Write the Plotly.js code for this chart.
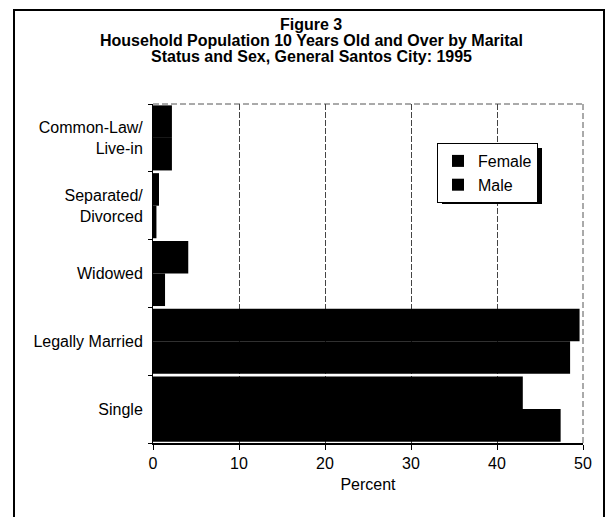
<!DOCTYPE html>
<html>
<head>
<meta charset="utf-8">
<script src="https://cdn.plot.ly/plotly-3.0.1.min.js"></script>
<style>
  html, body { margin: 0; padding: 0; background: #fff; }
  #chart { width: 608px; height: 517px; }
</style>
</head>
<body>
<div id="chart"></div>
<script>
// Categories listed bottom to top
const categories = ["Single", "Legally Married", "Widowed", "Separated/<br>Divorced", "Common-Law/<br>Live-in"];
const femaleValues = [43.0, 49.6, 4.1, 0.7, 2.2];
const maleValues = [47.4, 48.5, 1.4, 0.4, 2.2];
const xTicks = [0, 10, 20, 30, 40, 50];
const titleLines = ["Figure 3", "Household Population 10 Years Old and Over by Marital", "Status and Sex, General Santos City: 1995"];

const FONT = "Liberation Sans, Arial, sans-serif";

const traces = [
  {
    type: "bar", orientation: "h", name: "Male", legendrank: 2,
    y: categories, x: maleValues,
    marker: { color: "#000000", line: { width: 0 } }
  },
  {
    type: "bar", orientation: "h", name: "Female", legendrank: 1,
    y: categories, x: femaleValues,
    marker: { color: "#000000", line: { width: 0 } }
  }
];

// pixel -> paper helpers (plot area: x 153..583, y 104..443)
const L = 153, R = 583, T = 104, B = 443;
const px = v => (v - L) / (R - L);
const py = v => (B - v) / (B - T);

const titleY = [24, 41, 57];
const annotations = titleLines.map((t, i) => ({
  text: "<b>" + t + "</b>", showarrow: false,
  xref: "paper", yref: "paper", x: px(311), y: py(titleY[i]),
  xanchor: "center", yanchor: "middle",
  font: { family: FONT, size: 16, color: "#000" }
}));

const layout = {
  width: 608, height: 517,
  margin: { l: L, r: 608 - R, t: T, b: 517 - B, pad: 0 },
  paper_bgcolor: "#ffffff", plot_bgcolor: "#ffffff",
  font: { family: FONT, size: 16, color: "#000" },
  barmode: "group", bargap: 0.04, bargroupgap: 0,
  showlegend: true,
  legend: {
    x: px(437), y: py(143), xanchor: "left", yanchor: "top",
    bgcolor: "#ffffff", bordercolor: "#000", borderwidth: 1,
    traceorder: "normal",
    font: { family: FONT, size: 16, color: "#000" }
  },
  annotations: annotations,
  xaxis: {
    range: [0, 50], tickvals: xTicks, ticktext: xTicks.map(String),
    showgrid: true, gridcolor: "#444", griddash: "6px,2px", gridwidth: 1,
    zeroline: false,
    showline: true, linecolor: "#000", linewidth: 1.5,
    ticks: "outside", ticklen: 5, tickcolor: "#000", tickwidth: 1,
    tickfont: { family: FONT, size: 16, color: "#000" },
    title: { text: "Percent", font: { family: FONT, size: 16, color: "#000" }, standoff: 8 },
    fixedrange: true
  },
  yaxis: {
    type: "category", categoryorder: "array", categoryarray: categories,
    showgrid: false, zeroline: false,
    showline: true, linecolor: "#000", linewidth: 1,
    ticks: "outside", tickson: "boundaries", ticklen: 4, tickcolor: "#000",
    tickfont: { family: FONT, size: 16, color: "#000" },
    ticklabelstandoff: 6,
    fixedrange: true
  },
  shapes: [
    // dashed top and right plot borders
    { type: "line", xref: "paper", yref: "paper", x0: 0, x1: 1, y0: 1, y1: 1,
      line: { color: "#555", width: 1, dash: "6px,3px" }, layer: "below" },
    { type: "line", xref: "paper", yref: "paper", x0: 1, x1: 1, y0: 0, y1: 1,
      line: { color: "#555", width: 1, dash: "6px,3px" }, layer: "below" },
    // legend shadow
    { type: "rect", xref: "paper", yref: "paper",
      x0: px(442), x1: px(542), y0: py(204), y1: py(148),
      fillcolor: "#000", line: { width: 0 }, layer: "above" },
    // outer frame (left, top, right)
    { type: "path", xref: "paper", yref: "paper",
      path: `M ${px(14)} ${py(520)} L ${px(14)} ${py(10)} L ${px(604)} ${py(10)} L ${px(604)} ${py(520)}`,
      line: { color: "#000", width: 2 }, layer: "above" }
  ]
};

Plotly.newPlot("chart", traces, layout, { staticPlot: true, displayModeBar: false });
</script>
</body>
</html>
